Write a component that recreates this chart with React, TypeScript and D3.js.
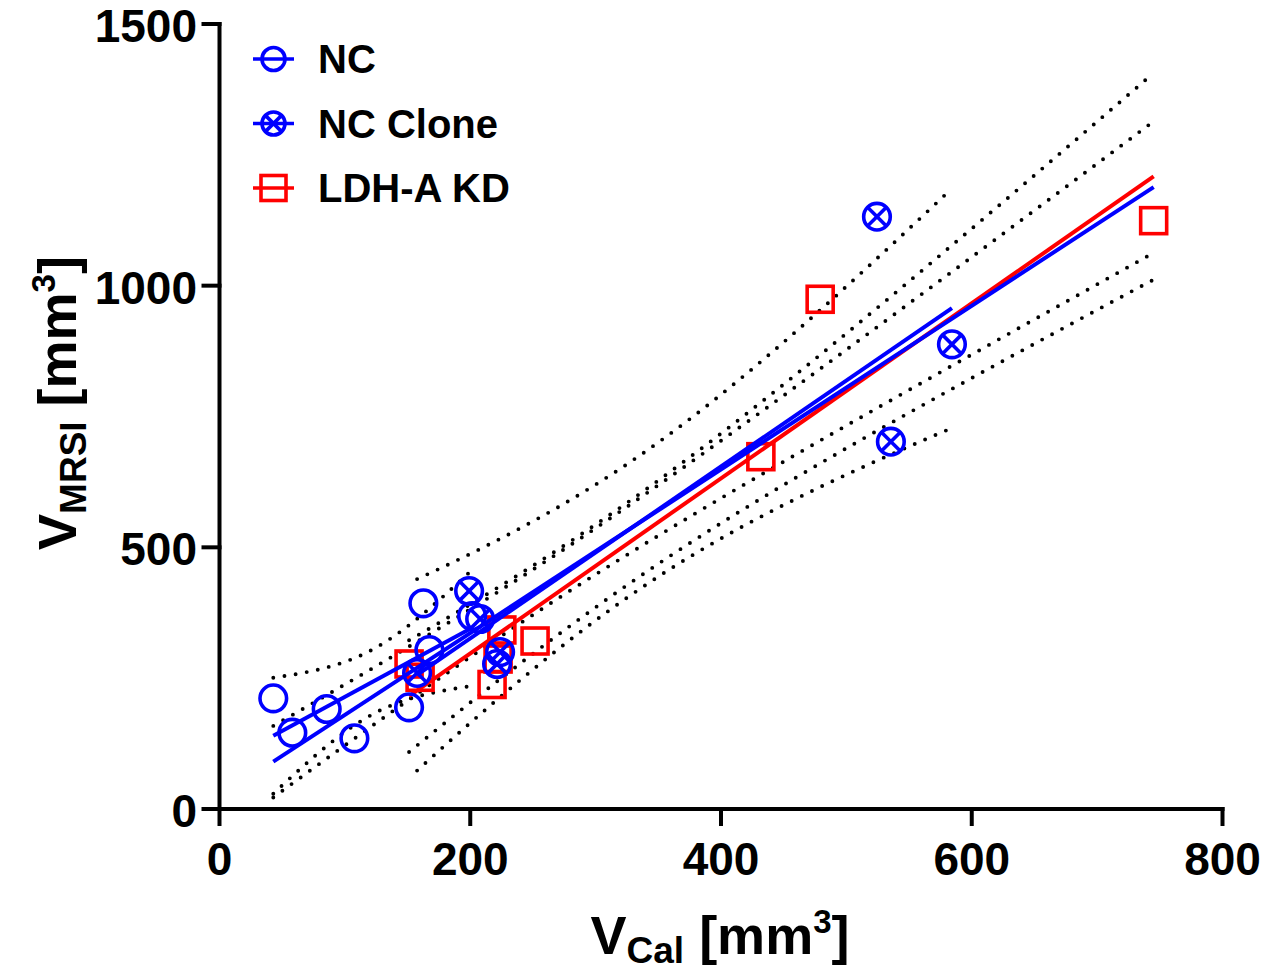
import React from "react";
import * as d3 from "d3";

// ---- data ----
const ncX = [42.9, 58.1, 85.5, 107.6, 151.2, 162.6, 167.4, 201.5];
const ncY = [211.5, 145.8, 191.1, 135.1, 194.3, 393.1, 303.8, 368.8];
const cloneX = [157.6, 199.1, 207.9, 221.4, 223.8, 524.4, 535.5, 584.2];
const cloneY = [260.0, 416.6, 363.1, 277.1, 300.0, 1131.9, 701.9, 888.0];
const kdX = [151.2, 160.0, 217.4, 222.2, 225.2, 251.7, 431.8, 479.1, 745.1];
const kdY = [277.1, 251.7, 237.9, 286.6, 342.1, 321.0, 673.2, 974.0, 1124.2];

const xTicks = [0, 200, 400, 600, 800];
const yTicks = [0, 500, 1000, 1500];
const legendLabels = ["NC", "NC Clone", "LDH-A KD"];

// two-sided 95% t critical values by degrees of freedom
const T_CRIT: Record<number, number> = { 6: 2.4469, 7: 2.3646, 23: 2.0687 };

const BLUE = "#0000FF";
const RED = "#FF0000";
const FONT = "'Liberation Sans', Arial, Helvetica, sans-serif";

type Fit = {
  slope: number; intercept: number; s: number; sxx: number; mx: number; n: number; xmin: number; xmax: number;
};

function fit(xs: number[], ys: number[]): Fit {
  const n = xs.length;
  const mx = d3.mean(xs)!;
  const my = d3.mean(ys)!;
  let sxx = 0, sxy = 0;
  xs.forEach((x, i) => { sxx += (x - mx) ** 2; sxy += (x - mx) * (ys[i] - my); });
  const slope = sxy / sxx;
  const intercept = my - slope * mx;
  let ssr = 0;
  xs.forEach((x, i) => { ssr += (ys[i] - (intercept + slope * x)) ** 2; });
  const s = Math.sqrt(ssr / (n - 2));
  return { slope, intercept, s, sxx, mx, n, xmin: d3.min(xs)!, xmax: d3.max(xs)! };
}

const x = d3.scaleLinear().domain([0, 800]).range([219.5, 1222.5]);
const y = d3.scaleLinear().domain([0, 1500]).range([809, 24]);

function bandPaths(f: Fit): string[] {
  const t = T_CRIT[f.n - 2];
  const xs = d3.range(0, 81).map((i) => f.xmin + ((f.xmax - f.xmin) * i) / 80);
  const hw = (v: number) => t * f.s * Math.sqrt(1 / f.n + (v - f.mx) ** 2 / f.sxx);
  const up = d3.line<number>().x((v) => x(v)).y((v) => y(f.intercept + f.slope * v + hw(v)))(xs)!;
  const lo = d3.line<number>().x((v) => x(v)).y((v) => y(f.intercept + f.slope * v - hw(v)))(xs)!;
  return [up, lo];
}

function fitLine(f: Fit): string {
  return d3.line<number>().x((v) => x(v)).y((v) => y(f.intercept + f.slope * v))([f.xmin, f.xmax])!;
}

const fNC = fit(ncX, ncY);
const fClone = fit(cloneX, cloneY);
const fKD = fit(kdX, kdY);
const fAll = fit([...ncX, ...cloneX, ...kdX], [...ncY, ...cloneY, ...kdY]);

const Circle = ({ cx, cy, r, cross }: { cx: number; cy: number; r: number; cross?: boolean }) => {
  const d = r * Math.SQRT1_2;
  return (
    <g stroke={BLUE} strokeWidth={3.6} fill="none">
      <circle cx={cx} cy={cy} r={r} />
      {cross && (
        <>
          <line x1={cx - d} y1={cy - d} x2={cx + d} y2={cy + d} />
          <line x1={cx - d} y1={cy + d} x2={cx + d} y2={cy - d} />
        </>
      )}
    </g>
  );
};

const Square = ({ cx, cy, h }: { cx: number; cy: number; h: number }) => (
  <rect x={cx - h} y={cy - h} width={2 * h} height={2 * h} stroke={RED} strokeWidth={3.6} fill="none" />
);

export default function App() {
  const dotted = { stroke: "#000", strokeWidth: 3.9, strokeLinecap: "round" as const, strokeDasharray: "0 11.3", fill: "none" };
  const bands = [fAll, fKD, fClone, fNC].flatMap((f) => bandPaths(f));
  const legendY = [59, 123.5, 188];
  return (
    <svg width={1268} height={973} style={{ position: "absolute", left: 0, top: 0, background: "#fff" }} fontFamily={FONT}>
      <rect width={1268} height={973} fill="#fff" />
      {/* confidence bands */}
      {bands.map((d, i) => (
        <path key={"b" + i} d={d} {...dotted} />
      ))}
      {/* LDH-A KD squares */}
      {kdX.map((v, i) => (
        <Square key={"s" + i} cx={x(v)} cy={y(kdY[i])} h={13} />
      ))}
      {/* regression lines */}
      <path d={fitLine(fKD)} stroke={RED} strokeWidth={4} fill="none" />
      <path d={fitLine(fAll)} stroke={BLUE} strokeWidth={4} fill="none" />
      <path d={fitLine(fClone)} stroke={BLUE} strokeWidth={4} fill="none" />
      <path d={fitLine(fNC)} stroke={BLUE} strokeWidth={4} fill="none" />
      {/* NC circles */}
      {ncX.map((v, i) => (
        <Circle key={"c" + i} cx={x(v)} cy={y(ncY[i])} r={13.3} />
      ))}
      {/* NC clone crossed circles */}
      {cloneX.map((v, i) => (
        <Circle key={"x" + i} cx={x(v)} cy={y(cloneY[i])} r={13.3} cross />
      ))}

      {/* axes */}
      <g stroke="#000" strokeWidth={4} strokeLinecap="square">
        <line x1={x(0)} y1={y(0)} x2={x(800)} y2={y(0)} />
        <line x1={x(0)} y1={y(0)} x2={x(0)} y2={y(1500)} />
        {xTicks.map((t) => (
          <line key={"xt" + t} x1={x(t)} y1={y(0)} x2={x(t)} y2={y(0) + 15} />
        ))}
        {yTicks.map((t) => (
          <line key={"yt" + t} x1={x(0) - 16} y1={y(t)} x2={x(0)} y2={y(t)} />
        ))}
      </g>
      {xTicks.map((t) => (
        <text key={"xl" + t} x={x(t)} y={875} textAnchor="middle" fontSize={46} fontWeight="bold">
          {t}
        </text>
      ))}
      {yTicks.map((t) => (
        <text key={"yl" + t} x={197} y={y(t) + 18} textAnchor="end" fontSize={46} fontWeight="bold">
          {t}
        </text>
      ))}

      {/* axis titles */}
      <text x={720} y={954} textAnchor="middle" fontSize={54} fontWeight="bold">
        V<tspan fontSize={37} dy={9}>Cal</tspan>
        <tspan dy={-9}> [mm</tspan>
        <tspan fontSize={33} dy={-21}>3</tspan>
        <tspan dy={21}>]</tspan>
      </text>
      <text transform="translate(76,403) rotate(-90)" textAnchor="middle" fontSize={54} fontWeight="bold">
        V<tspan fontSize={37} dy={10}>MRSI</tspan>
        <tspan dy={-10}> [mm</tspan>
        <tspan fontSize={33} dy={-21}>3</tspan>
        <tspan dy={21}>]</tspan>
      </text>

      {/* legend */}
      {legendLabels.map((lab, i) => {
        const cy = legendY[i];
        const color = i === 2 ? RED : BLUE;
        return (
          <g key={"lg" + i}>
            <line x1={253} y1={cy} x2={294} y2={cy} stroke={color} strokeWidth={3.6} />
            {i === 0 && <Circle cx={273.5} cy={cy} r={11.5} />}
            {i === 1 && <Circle cx={273.5} cy={cy} r={11.5} cross />}
            {i === 2 && <Square cx={273.5} cy={cy} h={12.5} />}
            <text x={318} y={cy + 14.3} fontSize={40} fontWeight="bold">
              {lab}
            </text>
          </g>
        );
      })}
    </svg>
  );
}
